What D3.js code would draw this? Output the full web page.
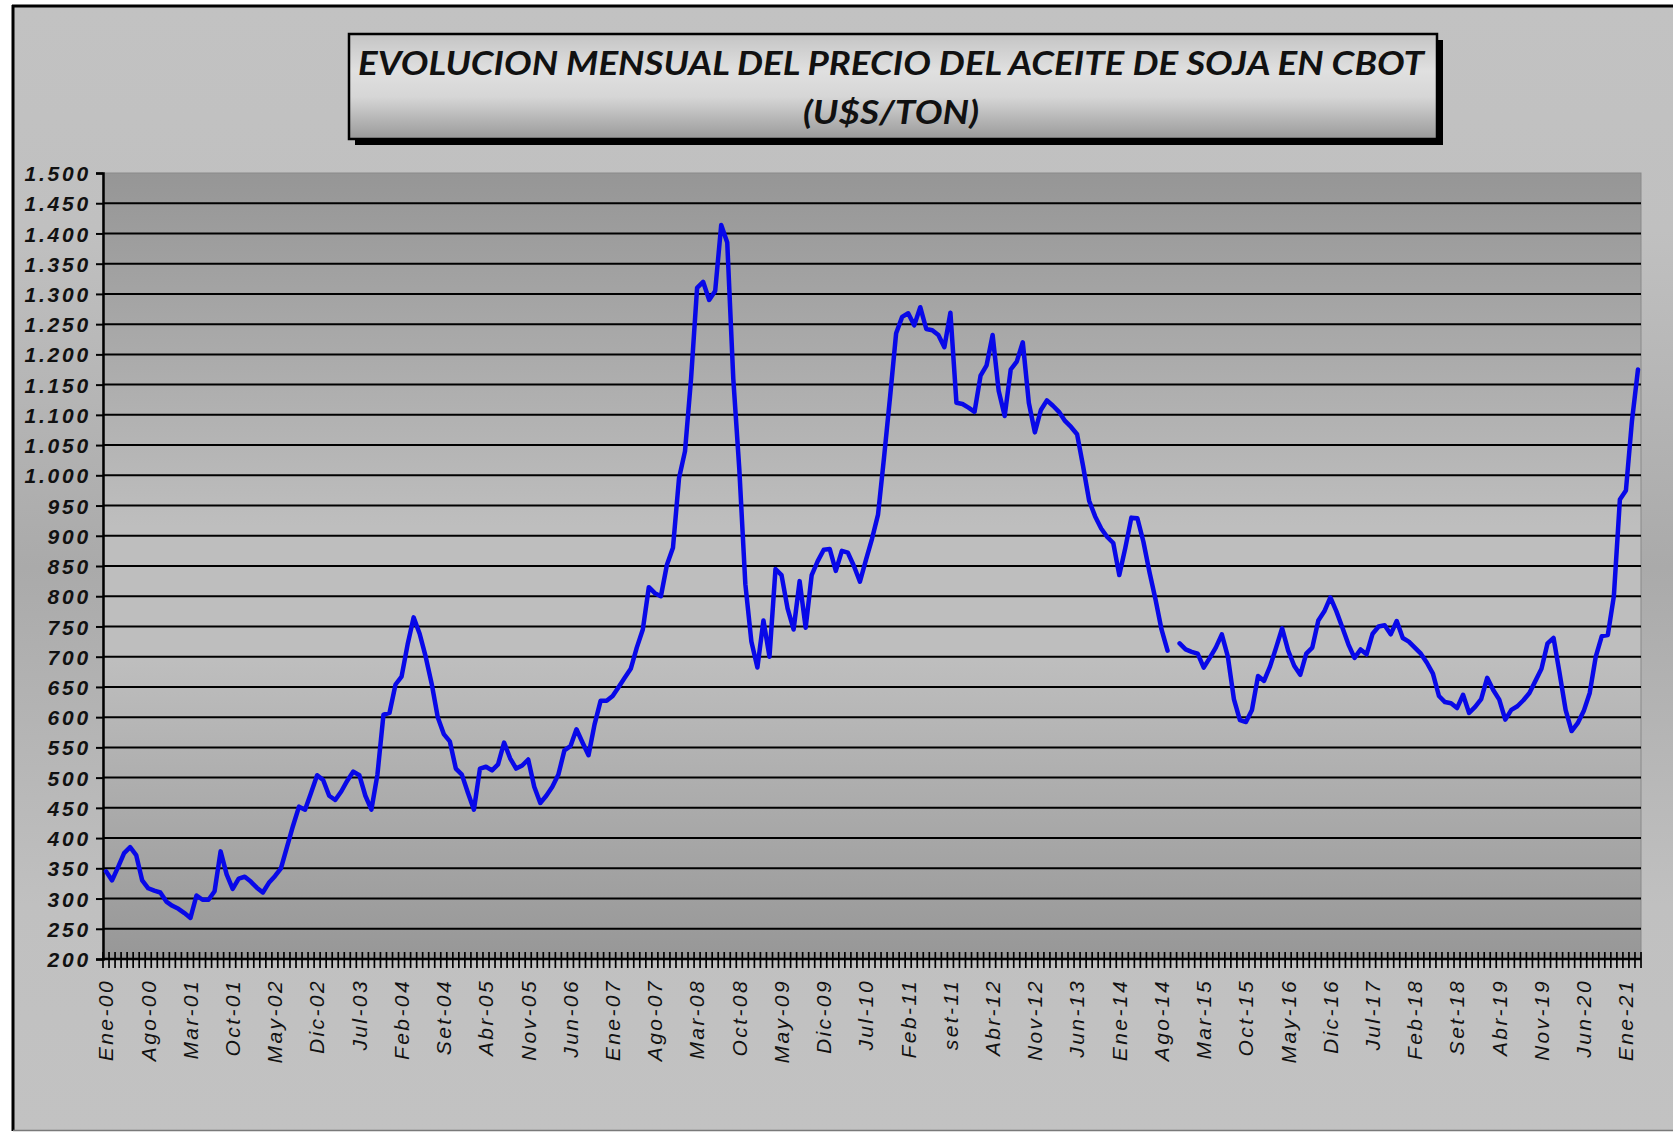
<!DOCTYPE html>
<html>
<head>
<meta charset="utf-8">
<script src="https://cdn.jsdelivr.net/npm/d3@7/dist/d3.min.js"></script>
<style>
  html, body { margin: 0; padding: 0; background: #ffffff; }
  svg { display: block; }
</style>
</head>
<body>
<svg id="chart" width="1673" height="1132"></svg>
<script>
// ---------------- DATA ----------------
const titleLine1 = "EVOLUCION MENSUAL DEL PRECIO DEL ACEITE DE SOJA EN CBOT";
const titleLine2 = "(U$S/TON)";

const monthNames = ["Ene","Feb","Mar","Abr","May","Jun","Jul","Ago","Set","Oct","Nov","Dic"];
const firstYear = 2000;
const nMonths = 255; // Ene-00 .. Mar-21

// x tick labels (every 7 months)
const xTickLabels = ["Ene-00","Ago-00","Mar-01","Oct-01","May-02","Dic-02","Jul-03","Feb-04","Set-04",
  "Abr-05","Nov-05","Jun-06","Ene-07","Ago-07","Mar-08","Oct-08","May-09","Dic-09","Jul-10","Feb-11",
  "set-11","Abr-12","Nov-12","Jun-13","Ene-14","Ago-14","Mar-15","Oct-15","May-16","Dic-16","Jul-17",
  "Feb-18","Set-18","Abr-19","Nov-19","Jun-20","Ene-21"];
const xTickStep = 7;

// y ticks
const yTicks = [200,250,300,350,400,450,500,550,600,650,700,750,800,850,900,950,1000,
  1050,1100,1150,1200,1250,1300,1350,1400,1450,1500];

// monthly price, U$S/TON (null = missing month)
const prices = [
  345,330,352,375,385,372,330,317,313,310,295,288,          // 2000
  283,276,268,305,298,298,312,378,340,316,333,336,          // 2001
  328,318,310,326,337,350,385,420,452,447,475,504,          // 2002
  496,470,463,477,495,510,504,470,447,505,604,607,          // 2003
  654,667,720,765,738,700,655,600,572,560,515,505,          // 2004
  475,447,515,518,512,522,558,532,515,520,530,485,          // 2005
  458,470,485,505,545,552,580,558,537,588,627,627,          // 2006
  635,650,665,680,715,745,815,805,800,852,880,995,          // 2007
  1040,1160,1310,1320,1290,1305,1414,1385,1160,1010,820,725, // 2008
  682,760,700,845,835,780,745,825,748,835,858,877,          // 2009
  878,842,875,872,850,824,860,895,935,1030,1130,1235,       // 2010
  1262,1268,1248,1278,1242,1240,1232,1212,1269,1120,1118,1112, // 2011
  1105,1165,1182,1232,1140,1098,1175,1188,1220,1120,1071,1108, // 2012
  1124,1115,1105,1090,1080,1068,1015,958,932,912,898,888,   // 2013
  835,880,930,929,890,840,795,745,710,null,722,712,         // 2014
  708,705,682,698,715,737,700,630,595,592,612,668,          // 2015
  660,684,715,747,710,685,670,705,715,760,775,798,          // 2016
  775,748,720,698,712,704,738,750,752,737,759,731,          // 2017
  725,715,705,690,672,635,625,623,615,637,607,617,          // 2018
  630,665,645,629,596,612,618,628,640,660,680,722,          // 2019
  731,673,612,577,590,610,640,700,734,736,800,960,          // 2020
  975,1090,1175                                             // 2021
];

// ---------------- CHART ----------------
const svg = d3.select("#chart");
const W = 1673, H = 1132;
const plot = { left: 103, top: 173, right: 1641, bottom: 959 };

const categories = d3.range(nMonths).map(i =>
  monthNames[i % 12] + "-" + String((firstYear + Math.floor(i / 12)) % 100).padStart(2, "0"));

const x = d3.scaleBand().domain(categories).range([plot.left, plot.right]).padding(0);
const y = d3.scaleLinear().domain([200, 1500]).range([plot.bottom, plot.top]);
const bw = x.bandwidth();
const cx = i => x(categories[i]) + bw / 2;

const defs = svg.append("defs");
const frameGrad = defs.append("linearGradient").attr("id", "frameGrad")
  .attr("x1", 0).attr("y1", 0).attr("x2", 0).attr("y2", 1);
[[0, "#c2c2c2"], [0.2, "#c0c0c0"], [0.5, "#aaaaaa"], [0.8, "#c0c0c0"], [1, "#c2c2c2"]]
  .forEach(([o, c]) => frameGrad.append("stop").attr("offset", o).attr("stop-color", c));

const plotGrad = defs.append("linearGradient").attr("id", "plotGrad")
  .attr("x1", 0).attr("y1", 0).attr("x2", 0).attr("y2", 1);
[[0, "#969696"], [0.45, "#bebebe"], [0.62, "#bebebe"], [1, "#979797"]]
  .forEach(([o, c]) => plotGrad.append("stop").attr("offset", o).attr("stop-color", c));

const titleGrad = defs.append("linearGradient").attr("id", "titleGrad")
  .attr("x1", 0).attr("y1", 0).attr("x2", 0).attr("y2", 1);
[[0, "#c4c4c4"], [0.35, "#e0e0e0"], [0.6, "#d6d6d6"], [1, "#999999"]]
  .forEach(([o, c]) => titleGrad.append("stop").attr("offset", o).attr("stop-color", c));

// frame
svg.append("rect").attr("x", 13).attr("y", 6).attr("width", W).attr("height", 1124)
  .attr("fill", "url(#frameGrad)");
svg.append("line").attr("x1", 13).attr("x2", 13).attr("y1", 5).attr("y2", 1131)
  .attr("stroke", "#000").attr("stroke-width", 3);
svg.append("line").attr("x1", 12).attr("x2", W).attr("y1", 6).attr("y2", 6)
  .attr("stroke", "#000").attr("stroke-width", 3);
svg.append("line").attr("x1", 13).attr("x2", W).attr("y1", 1130.5).attr("y2", 1130.5)
  .attr("stroke", "#7a7a7a").attr("stroke-width", 1.5);

// title box
const tb = { x: 349, y: 34, w: 1088, h: 105 };
svg.append("rect").attr("x", tb.x + 6).attr("y", tb.y + 6).attr("width", tb.w).attr("height", tb.h)
  .attr("fill", "#000");
svg.append("rect").attr("x", tb.x).attr("y", tb.y).attr("width", tb.w).attr("height", tb.h)
  .attr("fill", "url(#titleGrad)").attr("stroke", "#000").attr("stroke-width", 2.5);
svg.append("text").attr("x", tb.x + tb.w / 2 - 2).attr("y", 75)
  .attr("text-anchor", "middle")
  .attr("font-family", "Lato, 'Open Sans', sans-serif").attr("font-weight", "bold")
  .attr("font-style", "italic").attr("font-size", 33)
  .attr("textLength", 1066).attr("lengthAdjust", "spacingAndGlyphs")
  .attr("fill", "#111").text(titleLine1);
svg.append("text").attr("x", tb.x + tb.w / 2 - 2).attr("y", 124)
  .attr("text-anchor", "middle")
  .attr("font-family", "Lato, 'Open Sans', sans-serif").attr("font-weight", "bold")
  .attr("font-style", "italic").attr("font-size", 33)
  .attr("textLength", 176).attr("lengthAdjust", "spacingAndGlyphs")
  .attr("fill", "#111").text(titleLine2);

// plot area
svg.append("rect").attr("x", plot.left).attr("y", plot.top)
  .attr("width", plot.right - plot.left).attr("height", plot.bottom - plot.top)
  .attr("fill", "url(#plotGrad)").attr("stroke", "#8a8a8a").attr("stroke-width", 1);

// gridlines
svg.append("g").selectAll("line").data(yTicks.filter(v => v > 200 && v < 1500)).join("line")
  .attr("x1", plot.left).attr("x2", plot.right)
  .attr("y1", d => y(d)).attr("y2", d => y(d))
  .attr("stroke", "#000").attr("stroke-width", 2);

// y axis
const fmt = d3.formatLocale({ decimal: ",", thousands: ".", grouping: [3], currency: ["$", ""] }).format(",");
const yAxis = d3.axisLeft(y).tickValues(yTicks).tickSize(7).tickPadding(0).tickFormat(fmt);
const gy = svg.append("g").attr("transform", `translate(${plot.left},0)`).call(yAxis);
gy.select(".domain").attr("stroke", "#000").attr("stroke-width", 2.5);
gy.selectAll(".tick line").attr("stroke", "#000").attr("stroke-width", 2);
gy.selectAll(".tick text")
  .attr("x", -12).attr("dy", "0.36em")
  .attr("font-family", "'Liberation Sans', Arial, sans-serif")
  .attr("font-weight", "bold").attr("font-style", "italic")
  .attr("font-size", 21).attr("letter-spacing", 2.8)
  .attr("fill", "#111");

// x axis line & ticks (cross ticks at category boundaries)
svg.append("g").selectAll("line").data(d3.range(nMonths + 1)).join("line")
  .attr("x1", k => plot.left + k * bw).attr("x2", k => plot.left + k * bw)
  .attr("y1", plot.bottom - 7).attr("y2", plot.bottom + 9)
  .attr("stroke", "#000").attr("stroke-width", 1.7);
svg.append("line").attr("x1", plot.left).attr("x2", plot.right)
  .attr("y1", plot.bottom).attr("y2", plot.bottom)
  .attr("stroke", "#000").attr("stroke-width", 2.5);

// x labels
svg.append("g").selectAll("text").data(xTickLabels).join("text")
  .attr("transform", (d, j) => `translate(${cx(j * xTickStep)},979) rotate(-90)`)
  .attr("text-anchor", "end").attr("dy", "0.35em")
  .attr("font-family", "'Liberation Sans', Arial, sans-serif")
  .attr("font-style", "italic").attr("font-size", 21).attr("letter-spacing", 2.4)
  .attr("fill", "#111")
  .text(d => d);

// price line
const line = d3.line()
  .defined(d => d != null)
  .x((d, i) => cx(i))
  .y(d => y(d));
svg.append("path").datum(prices)
  .attr("d", line)
  .attr("fill", "none").attr("stroke", "#0808e8").attr("stroke-width", 4.5)
  .attr("stroke-linejoin", "round").attr("stroke-linecap", "round");
</script>
</body>
</html>
